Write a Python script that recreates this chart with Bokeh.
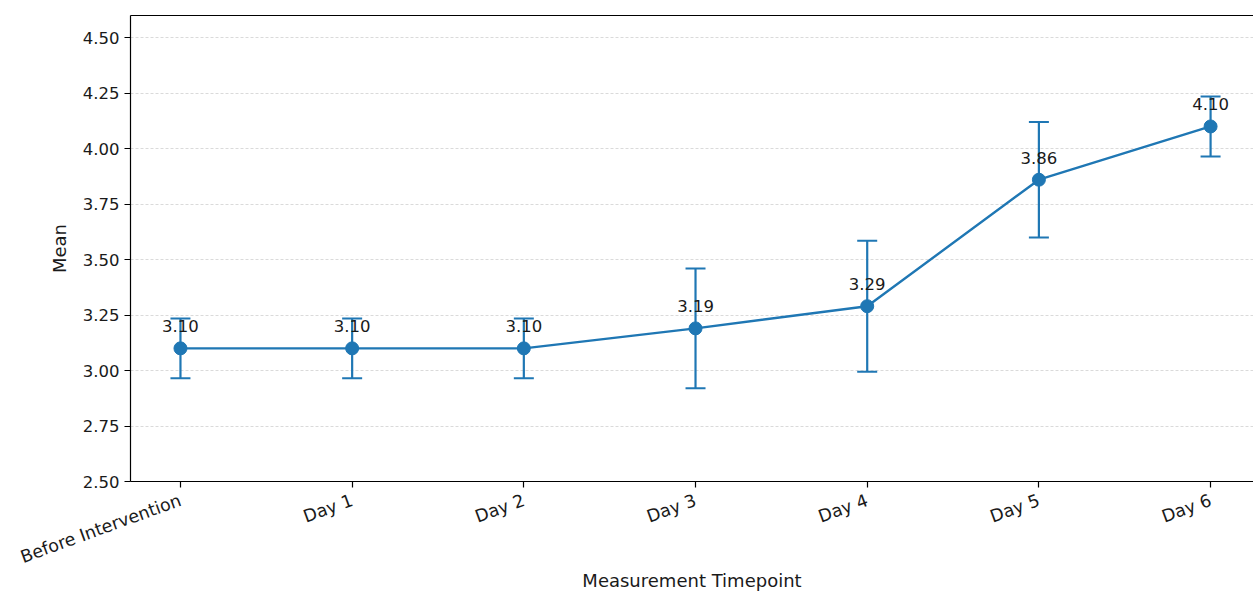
import math
from bokeh.plotting import figure
from bokeh.models import Range1d, LinearAxis, FixedTicker, ColumnDataSource, Whisker, NumeralTickFormatter
from bokeh.core.properties import value
from bokeh.embed import file_html
from bokeh.resources import INLINE

categories = ["Before Intervention", "Day 1", "Day 2", "Day 3", "Day 4", "Day 5", "Day 6"]
means = [3.10, 3.10, 3.10, 3.19, 3.29, 3.86, 4.10]
errors = [0.135, 0.135, 0.135, 0.27, 0.295, 0.26, 0.135]
y_ticks = [2.50, 2.75, 3.00, 3.25, 3.50, 3.75, 4.00, 4.25, 4.50]

FONT = "DejaVu Sans"
BLUE = "#1f77b4"

xs = list(range(len(categories)))
src = ColumnDataSource(dict(
    x=xs, y=means,
    upper=[m + e for m, e in zip(means, errors)],
    lower=[m - e for m, e in zip(means, errors)],
    label=[f"{m:.2f}" for m in means],
))

p = figure(width=1253, height=594, output_backend="svg", toolbar_location=None,
           x_range=Range1d(-0.291, 6.25), y_range=Range1d(2.5, 4.6),
           min_border_left=130, min_border_right=0, min_border_top=15, min_border_bottom=10)

p.outline_line_color = None
p.background_fill_color = "white"
p.xgrid.grid_line_color = None
p.ygrid.grid_line_color = "#d0d0d0"
p.ygrid.grid_line_dash = "3 2"
p.ygrid.grid_line_width = 0.8
p.ygrid.ticker = FixedTicker(ticks=y_ticks)

# axes
p.xaxis.ticker = FixedTicker(ticks=xs)
p.xaxis.major_label_overrides = {i: c for i, c in enumerate(categories)}
p.xaxis.major_label_orientation = math.radians(20)
p.yaxis.ticker = FixedTicker(ticks=y_ticks)
p.yaxis.formatter = NumeralTickFormatter(format="0.00")
for ax in (p.xaxis[0], p.yaxis[0]):
    ax.minor_tick_line_color = None
    ax.major_tick_in = 0
    ax.major_tick_out = 6
    ax.major_tick_line_color = "black"
    ax.major_tick_line_width = 1.2
    ax.axis_line_color = "black"
    ax.axis_line_width = 1.2
    ax.major_label_text_font = FONT
    ax.major_label_text_font_size = "16.5px"
    ax.major_label_text_color = "#1a1a1a"
    ax.axis_label_text_font = FONT
    ax.axis_label_text_font_size = "18px"
    ax.axis_label_text_font_style = "normal"
    ax.axis_label_text_color = "#1a1a1a"
p.xaxis.major_label_text_font_size = "17.5px"
p.xaxis.axis_label = "Measurement Timepoint"
p.yaxis.axis_label = "Mean"
p.xaxis.major_label_standoff = 12
p.yaxis.major_label_standoff = 5
p.xaxis.axis_label_standoff = -9
p.yaxis.axis_label_standoff = 10

top = LinearAxis(ticker=FixedTicker(ticks=[]), major_label_text_font_size="0px",
                 major_tick_line_color=None, minor_tick_line_color=None,
                 axis_line_color="black", axis_line_width=1.2, major_label_standoff=0)
p.add_layout(top, "above")

# error bars
wh = Whisker(source=src, base="x", upper="upper", lower="lower", dimension="height",
             line_color=BLUE, line_width=2.2)
wh.upper_head.size = 20
wh.lower_head.size = 20
wh.upper_head.line_color = BLUE
wh.lower_head.line_color = BLUE
wh.upper_head.line_width = 2
wh.lower_head.line_width = 2
p.add_layout(wh)

p.line("x", "y", source=src, line_color=BLUE, line_width=2.4)
p.scatter("x", "y", source=src, size=13, fill_color=BLUE, line_color=BLUE)

p.text("x", "y", text="label", source=src, text_align="center", text_baseline="alphabetic",
       y_offset=-22, text_font=value(FONT), text_font_size="16.5px", text_color="#1a1a1a")

open("out.html", "w").write(file_html(p, INLINE))
